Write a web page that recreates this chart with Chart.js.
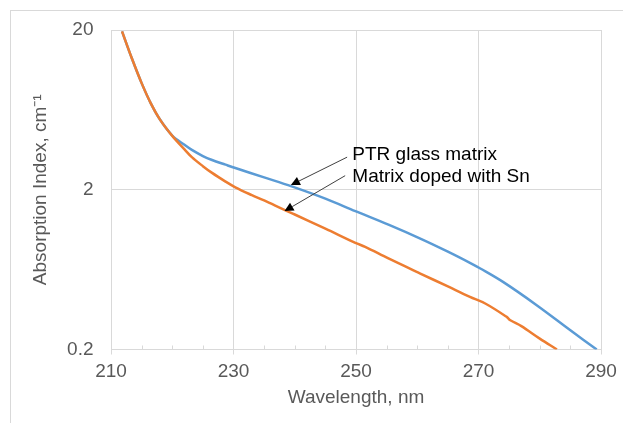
<!DOCTYPE html>
<html>
<head>
<meta charset="utf-8">
<script src="https://cdn.jsdelivr.net/npm/chart.js@4.4.1/dist/chart.umd.min.js"></script>
<style>
html,body{margin:0;padding:0;background:#fff;overflow:hidden}
#wrap{width:623px;height:423px;position:relative}
</style>
</head>
<body>
<div id="wrap"><canvas id="c" width="623" height="423"></canvas></div>
<script>
// ---- data ----
const seriesNames = ['PTR glass matrix', 'Matrix doped with Sn'];
const ptrWavelength = [211.8, 213.4, 215, 216.5, 218, 220, 222, 223.2, 225, 226.5, 228.7, 230.3, 235, 239.5, 245, 249.9, 255.3, 260.5, 265, 268.6, 270.3, 274, 279.5, 285, 289.3];
const ptrAbsorption = [19.6, 13.3, 9.3, 6.95, 5.5, 4.37, 3.82, 3.55, 3.25, 3.07, 2.87, 2.735, 2.39, 2.10, 1.76, 1.47, 1.21, 0.99, 0.82, 0.698, 0.643, 0.53, 0.379, 0.264, 0.2];
const snWavelength = [211.8, 213.4, 215, 216.5, 218, 220, 222, 223.2, 225, 226.5, 228.7, 230.3, 233, 235, 238.4, 240, 245, 249.9, 251.5, 255.3, 260.5, 265, 268.6, 271.1, 274.6, 275.2, 277, 280, 282.8];
const snAbsorption = [19.6, 13.3, 9.3, 6.95, 5.5, 4.35, 3.58, 3.20, 2.81, 2.55, 2.25, 2.07, 1.85, 1.714, 1.49, 1.40, 1.142, 0.93, 0.878, 0.743, 0.598, 0.496, 0.427, 0.388, 0.32, 0.305, 0.28, 0.234, 0.2];
const xTickValues = [210, 230, 250, 270, 290];
const xMinorTickValues = [215, 220, 225, 235, 240, 245, 255, 260, 265, 275, 280, 285];
const yTickValues = [0.2, 2, 20];
const yTickLabels = ['0.2', '2', '20'];
const xTitle = 'Wavelength, nm';
const yTitle = 'Absorption Index, cm\u207B\u00B9';
// annotation anchors (data units)
const labelX = [249.4, 249.4];
const labelY = [3.09, 2.24];
const arrowTailX = [248.55, 248.23];
const arrowTailY = [3.2, 2.45];
const arrowTipX = [239.37, 238.33];
const arrowTipY = [2.14, 1.47];

const FONT = "'Liberation Sans', Arial, sans-serif";
const GRID = '#d9d9d9';
const TXT = '#595959';

const toPts = (xs, ys) => xs.map((x, i) => ({x: x, y: ys[i]}));

const framePlugin = {
  id: 'frame',
  beforeDraw(chart) {
    const ctx = chart.ctx;
    ctx.save();
    ctx.fillStyle = '#fff';
    ctx.fillRect(0, 0, chart.width, chart.height);
    ctx.strokeStyle = GRID;
    ctx.lineWidth = 1;
    ctx.strokeRect(10.5, 10.5, chart.width + 20, chart.height + 20);
    ctx.restore();
  }
};

const minorTickPlugin = {
  id: 'minorTicks',
  beforeDatasetsDraw(chart) {
    const ctx = chart.ctx;
    const xs = chart.scales.x;
    const bottom = chart.chartArea.bottom;
    ctx.save();
    ctx.strokeStyle = GRID;
    ctx.lineWidth = 1;
    xMinorTickValues.forEach(v => {
      const px = Math.round(xs.getPixelForValue(v)) + 0.5;
      ctx.beginPath();
      ctx.moveTo(px, bottom);
      ctx.lineTo(px, bottom - 4);
      ctx.stroke();
    });
    ctx.restore();
  }
};

const annotationPlugin = {
  id: 'annot',
  afterDatasetsDraw(chart) {
    const ctx = chart.ctx;
    const xs = chart.scales.x, ys = chart.scales.y;
    ctx.save();
    for (let i = 0; i < seriesNames.length; i++) {
      const x0 = xs.getPixelForValue(arrowTailX[i]);
      const y0 = ys.getPixelForValue(arrowTailY[i]);
      const x1 = xs.getPixelForValue(arrowTipX[i]);
      const y1 = ys.getPixelForValue(arrowTipY[i]);
      const ang = Math.atan2(y1 - y0, x1 - x0);
      const L = 9, W = 4.5;
      const bx = x1 - L * Math.cos(ang), by = y1 - L * Math.sin(ang);
      ctx.strokeStyle = '#404040';
      ctx.lineWidth = 1;
      ctx.beginPath();
      ctx.moveTo(x0, y0);
      ctx.lineTo(bx, by);
      ctx.stroke();
      ctx.fillStyle = '#000';
      ctx.beginPath();
      ctx.moveTo(x1, y1);
      ctx.lineTo(bx + W * Math.sin(ang), by - W * Math.cos(ang));
      ctx.lineTo(bx - W * Math.sin(ang), by + W * Math.cos(ang));
      ctx.closePath();
      ctx.fill();
      ctx.fillStyle = '#000';
      ctx.font = '19px ' + FONT;
      ctx.textAlign = 'left';
      ctx.textBaseline = 'alphabetic';
      ctx.fillText(seriesNames[i], xs.getPixelForValue(labelX[i]), ys.getPixelForValue(labelY[i]));
    }
    ctx.restore();
  }
};

new Chart(document.getElementById('c'), {
  type: 'line',
  data: {
    datasets: [
      {
        label: seriesNames[0],
        data: toPts(ptrWavelength, ptrAbsorption),
        borderColor: '#5b9bd5',
        backgroundColor: '#5b9bd5',
        borderWidth: 2.5,
        pointRadius: 0,
        tension: 0.35,
        fill: false,
        order: 1
      },
      {
        label: seriesNames[1],
        data: toPts(snWavelength, snAbsorption),
        borderColor: '#ed7d31',
        backgroundColor: '#ed7d31',
        borderWidth: 2.5,
        pointRadius: 0,
        tension: 0.35,
        fill: false,
        order: 0
      }
    ]
  },
  options: {
    responsive: false,
    animation: false,
    devicePixelRatio: 1,
    layout: {padding: {left: 0, right: 22, top: 30, bottom: 0}},
    plugins: {legend: {display: false}, tooltip: {enabled: false}},
    scales: {
      x: {
        type: 'linear',
        min: 210, max: 290,
        afterBuildTicks: s => { s.ticks = xTickValues.map(v => ({value: v})); },
        afterFit: s => { s.height = 73.5; },
        grid: {color: GRID, lineWidth: 1, drawTicks: true, tickLength: 5, tickColor: GRID},
        border: {color: GRID, width: 1},
        ticks: {color: TXT, font: {family: FONT, size: 19}, padding: 6, maxRotation: 0, callback: v => String(v)},
        title: {display: true, text: xTitle, color: TXT, font: {family: FONT, size: 19}, padding: {top: 0, bottom: 13.5}}
      },
      y: {
        type: 'logarithmic',
        min: 0.2, max: 20,
        afterBuildTicks: s => { s.ticks = yTickValues.map(v => ({value: v})); },
        afterFit: s => { s.width = 111; },
        grid: {color: GRID, lineWidth: 1, drawTicks: false},
        border: {color: GRID, width: 1},
        ticks: {color: TXT, font: {family: FONT, size: 19}, padding: 17.5,
          callback: (v) => yTickLabels[yTickValues.indexOf(v)] !== undefined ? yTickLabels[yTickValues.indexOf(v)] : String(v)},
        title: {display: true, text: yTitle, color: TXT, font: {family: FONT, size: 19}, padding: {top: 29, bottom: 0}}
      }
    }
  },
  plugins: [framePlugin, minorTickPlugin, annotationPlugin]
});
</script>
</body>
</html>
